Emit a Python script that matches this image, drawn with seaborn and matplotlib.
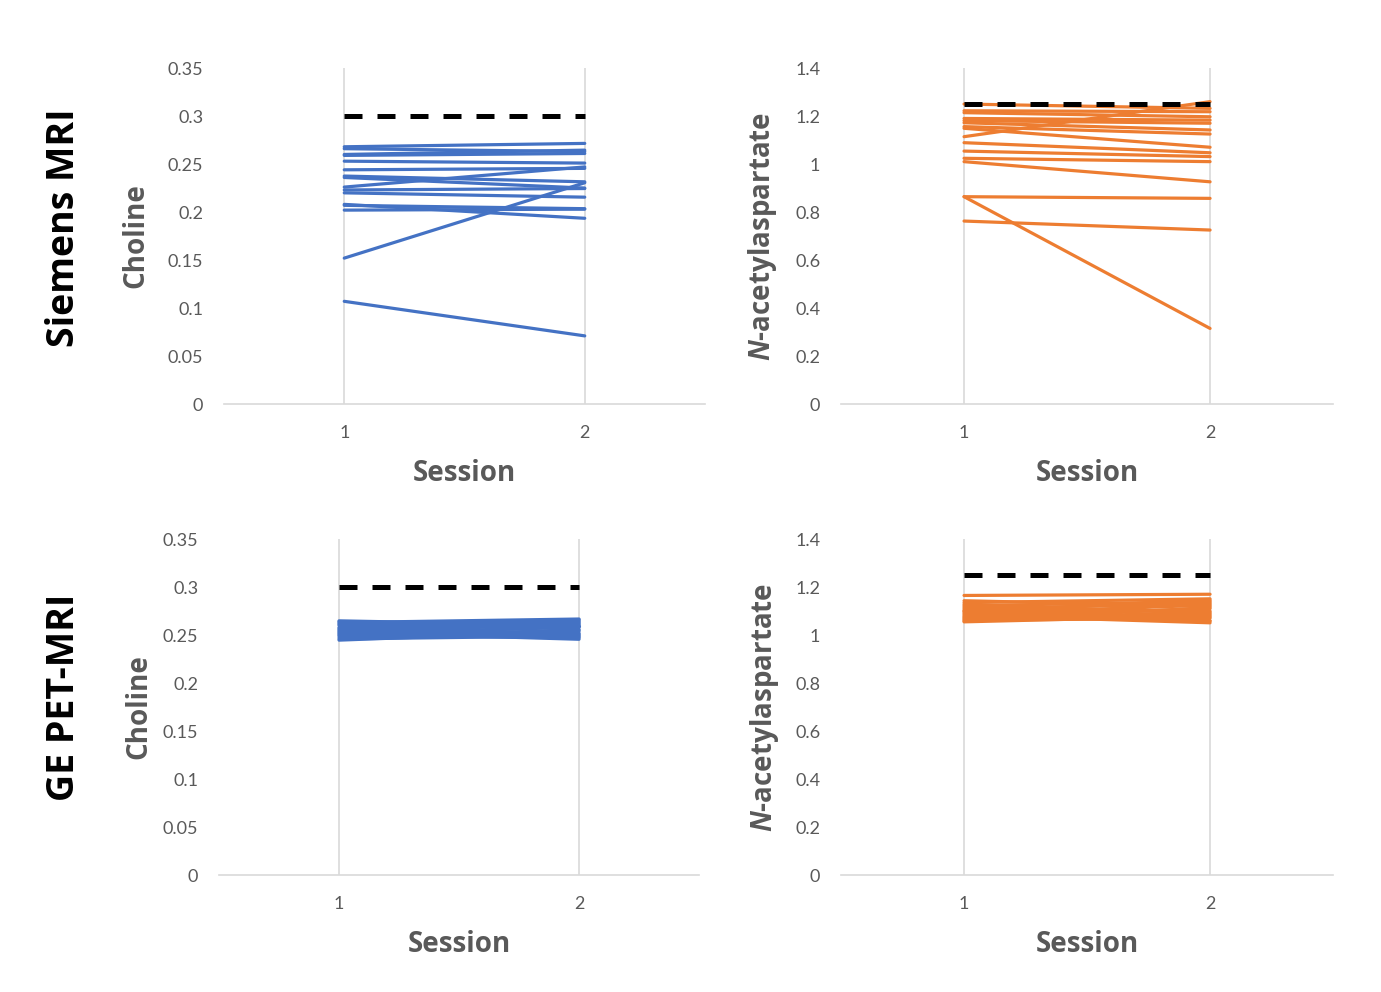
import pandas as pd
import seaborn as sns
import matplotlib.pyplot as plt

# Session values (one entry per subject)
sessions = [1, 2]

siemens_cho_s1 = [0.268, 0.266, 0.260, 0.259, 0.253, 0.244, 0.2375, 0.236,
                  0.226, 0.223, 0.220, 0.208, 0.207, 0.202, 0.152, 0.107]
siemens_cho_s2 = [0.2715, 0.263, 0.2645, 0.261, 0.251, 0.2455, 0.2315, 0.225,
                  0.247, 0.2245, 0.2155, 0.1935, 0.2035, 0.203, 0.2305, 0.071]

siemens_naa_s1 = [1.250, 1.222, 1.214, 1.190, 1.181, 1.172, 1.156, 1.149,
                  1.114, 1.089, 1.054, 1.024, 1.010, 0.864, 0.864, 0.7625]
siemens_naa_s2 = [1.232, 1.218, 1.197, 1.183, 1.170, 1.142, 1.125, 1.070,
                  1.260, 1.047, 1.031, 1.010, 0.926, 0.857, 0.315, 0.725]

ge_cho_s1 = [0.2648, 0.2640, 0.2630, 0.2620, 0.2610, 0.2600, 0.2590, 0.2580,
             0.2570, 0.2560, 0.2550, 0.2540, 0.2530, 0.2520, 0.2510, 0.2500,
             0.2490, 0.2475, 0.2460, 0.2447]
ge_cho_s2 = [0.2600, 0.2560, 0.2667, 0.2610, 0.2650, 0.2480, 0.2590, 0.2640,
             0.2520, 0.2660, 0.2500, 0.2620, 0.2456, 0.2580, 0.2630, 0.2470,
             0.2550, 0.2510, 0.2490, 0.2540]

ge_naa_s1 = [1.165, 1.143, 1.135, 1.128, 1.122, 1.116, 1.110, 1.104, 1.098, 1.093,
             1.088, 1.083, 1.078, 1.074, 1.070, 1.066, 1.062, 1.058, 1.055, 1.100]
ge_naa_s2 = [1.170, 1.120, 1.151, 1.090, 1.140, 1.060, 1.130, 1.100, 1.145, 1.075,
             1.125, 1.051, 1.110, 1.085, 1.135, 1.095, 1.070, 1.115, 1.080, 1.058]

cho_threshold = 0.3
naa_threshold = 1.25

cho_ticks = [0, 0.05, 0.1, 0.15, 0.2, 0.25, 0.3, 0.35]
cho_ticklabels = ["0", "0.05", "0.1", "0.15", "0.2", "0.25", "0.3", "0.35"]
naa_ticks = [0, 0.2, 0.4, 0.6, 0.8, 1.0, 1.2, 1.4]
naa_ticklabels = ["0", "0.2", "0.4", "0.6", "0.8", "1", "1.2", "1.4"]

row_labels = ["Siemens MRI", "GE PET-MRI"]

BLUE = "#4472C4"
ORANGE = "#ED7D31"
GREY_TEXT = "#595959"
GRID = "#D9D9D9"

sns.set_theme(style="white")
plt.rcParams["font.family"] = ["Open Sans", "DejaVu Sans"]
plt.rcParams["mathtext.fontset"] = "custom"
plt.rcParams["mathtext.bfit"] = "Open Sans:bold:italic"
plt.rcParams["mathtext.bf"] = "Open Sans:bold"


def to_long(s1, s2):
    rows = []
    for i, (a, b) in enumerate(zip(s1, s2)):
        rows.append({"subject": i, "session": sessions[0], "value": a})
        rows.append({"subject": i, "session": sessions[1], "value": b})
    return pd.DataFrame(rows)


fig = plt.figure(figsize=(13.81, 9.92), dpi=100)

panels = [
    # (rect, s1, s2, colour, threshold, ticks, ticklabels, ylabel, ylabel_x)
    ([0.1622, 0.5927, 0.3483, 0.3387], siemens_cho_s1, siemens_cho_s2, BLUE,
     cho_threshold, cho_ticks, cho_ticklabels, "Choline", -0.154),
    ([0.6090, 0.5927, 0.3563, 0.3387], siemens_naa_s1, siemens_naa_s2, ORANGE,
     naa_threshold, naa_ticks, naa_ticklabels, r"$\mathbfit{N}$-acetylaspartate", -0.126),
    ([0.1586, 0.1179, 0.3476, 0.3387], ge_cho_s1, ge_cho_s2, BLUE,
     cho_threshold, cho_ticks, cho_ticklabels, "Choline", -0.1375),
    ([0.6090, 0.1179, 0.3563, 0.3387], ge_naa_s1, ge_naa_s2, ORANGE,
     naa_threshold, naa_ticks, naa_ticklabels, r"$\mathbfit{N}$-acetylaspartate", -0.122),
]

for rect, s1, s2, colour, thr, ticks, ticklabels, ylabel, ylab_x in panels:
    ax = fig.add_axes(rect)
    df = to_long(s1, s2)

    # vertical category gridlines
    for s in sessions:
        ax.axvline(s, color=GRID, lw=1.2, zorder=0)

    sns.lineplot(data=df, x="session", y="value", units="subject",
                 estimator=None, color=colour, lw=2.3, ax=ax, zorder=2)

    # threshold line
    ax.plot(sessions, [thr, thr], color="black", lw=3.6,
            linestyle=(0, (3.6, 3.0)), solid_capstyle="butt", zorder=3)

    ax.set_xlim(0.5, 2.5)
    ax.set_ylim(ticks[0], ticks[-1])
    ax.set_xticks(sessions)
    ax.set_xticklabels([str(s) for s in sessions])
    ax.set_yticks(ticks)
    ax.set_yticklabels(ticklabels)
    for lab in ax.get_xticklabels() + ax.get_yticklabels():
        lab.set_fontfamily("Lato")
        lab.set_fontsize(13)
        lab.set_color(GREY_TEXT)
    ax.tick_params(axis="y", length=0, pad=15)
    ax.tick_params(axis="x", length=0, pad=15)

    for side in ["left", "right", "top"]:
        ax.spines[side].set_visible(False)
    ax.spines["bottom"].set_color(GRID)
    ax.spines["bottom"].set_linewidth(1.2)

    ax.set_xlabel("Session", fontsize=20, fontweight="bold", color=GREY_TEXT)
    ax.set_ylabel(ylabel, fontsize=20, fontweight="bold", color=GREY_TEXT)
    ax.xaxis.set_label_coords(0.5, -0.164)
    ax.yaxis.set_label_coords(ylab_x, 0.5)

fig.text(0.0463, 0.770, row_labels[0], rotation=90, ha="center", va="center",
         fontsize=27, fontweight="bold", color="black")
fig.text(0.0463, 0.297, row_labels[1], rotation=90, ha="center", va="center",
         fontsize=27, fontweight="bold", color="black")

fig.savefig("out.png", dpi=100, facecolor="white")
